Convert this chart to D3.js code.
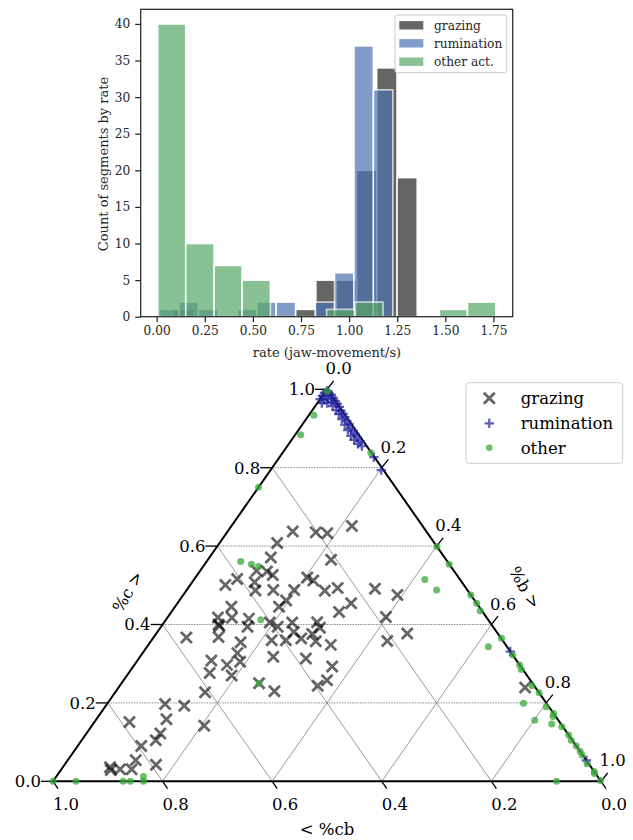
<!DOCTYPE html>
<html><head><meta charset="utf-8">
<script src="https://cdn.jsdelivr.net/npm/d3@7"></script>
<style>body{margin:0;background:#fff}svg{display:block}text{font-family:"DejaVu Serif",serif;}</style>
</head><body><svg id="c" width="633" height="840"></svg>
<script>
// ---------- histogram data ----------
const rateTicks = [0, 0.25, 0.5, 0.75, 1.0, 1.25, 1.5, 1.75];
const countTicks = [0, 5, 10, 15, 20, 25, 30, 35, 40];
const histNames = ["grazing", "rumination", "other act."];
const grazingEdges = [0.088, 0.194, 0.299, 0.405, 0.510, 0.616, 0.721, 0.827, 0.932, 1.038, 1.143, 1.249, 1.354];
const grazingCounts = [1, 0, 0, 0, 0, 0, 1, 5, 5, 20, 34, 19];
const ruminationEdges = [0.015, 0.116, 0.217, 0.318, 0.419, 0.520, 0.621, 0.722, 0.823, 0.924, 1.025, 1.126, 1.227];
const ruminationCounts = [1, 2, 1, 0, 1, 2, 2, 0, 2, 6, 37, 31];
const otherEdges = [0.005, 0.151, 0.298, 0.444, 0.591, 0.737, 0.883, 1.030, 1.176, 1.322, 1.469, 1.615, 1.762];
const otherCounts = [40, 10, 7, 5, 0, 0, 1, 2, 0, 0, 1, 2];

// ---------- ternary data: [b, c]  (cb = 1 - b - c) ----------
const ternTicks = [0, 0.2, 0.4, 0.6, 0.8, 1.0];
const ternNames = ["grazing", "rumination", "other"];
const grazingPts = [
 [0.220,0.651],[0.119,0.637],[0.162,0.635],[0.184,0.633],[0.105,0.608],[0.112,0.571],[0.225,0.565],
 [0.078,0.516],[0.064,0.501],[0.103,0.537],[0.123,0.535],[0.138,0.526],[0.114,0.508],[0.126,0.487],
 [0.158,0.488],[0.204,0.520],[0.219,0.512],[0.196,0.488],[0.253,0.486],[0.273,0.493],[0.342,0.491],
 [0.391,0.475],[0.195,0.461],[0.190,0.445],[0.317,0.454],[0.306,0.432],[0.398,0.419],[0.458,0.377],
 [0.431,0.358],[0.103,0.445],[0.118,0.417],[0.150,0.415],[0.158,0.394],[0.092,0.418],[0.102,0.400],
 [0.106,0.396],[0.193,0.405],[0.213,0.394],[0.234,0.405],[0.249,0.381],[0.279,0.406],[0.291,0.392],
 [0.285,0.376],[0.271,0.364],[0.245,0.360],[0.219,0.360],[0.301,0.357],[0.333,0.348],[0.165,0.355],
 [0.173,0.327],[0.060,0.367],[0.118,0.368],[0.243,0.318],[0.305,0.313],[0.363,0.293],[0.371,0.258],
 [0.361,0.244],[0.251,0.250],[0.289,0.230],[0.135,0.308],[0.169,0.297],[0.189,0.305],[0.148,0.276],
 [0.191,0.270],[0.164,0.227],[0.106,0.197],[0.143,0.193],[0.064,0.151],[0.128,0.158],[0.205,0.142],
 [0.135,0.122],[0.135,0.105],[0.116,0.090],[0.124,0.054],[0.167,0.042],[0.128,0.031],[0.086,0.036],
 [0.091,0.029],[0.107,0.031],[0.742,0.239]
];
const ruminationPts = [
 [0.002,0.996],[0.000,0.991],[0.008,0.991],[0.000,0.983],[0.007,0.983],[0.015,0.986],[0.000,0.975],
 [0.008,0.973],[0.014,0.975],[0.022,0.978],[0.008,0.965],[0.018,0.965],[0.024,0.968],[0.030,0.970],
 [0.037,0.963],[0.032,0.957],[0.045,0.955],[0.043,0.947],[0.053,0.945],[0.061,0.937],[0.053,0.937],
 [0.068,0.929],[0.065,0.924],[0.077,0.919],[0.084,0.912],[0.078,0.909],[0.093,0.901],[0.090,0.896],
 [0.101,0.894],[0.108,0.886],[0.103,0.881],[0.116,0.878],[0.114,0.871],[0.126,0.868],[0.126,0.861],
 [0.136,0.855],[0.172,0.827],[0.202,0.794],[0.669,0.331],[0.947,0.053]
];
const otherPts = [
 [0.009,0.934],[0.010,0.884],[0.000,0.750],[0.062,0.561],[0.085,0.554],[0.101,0.548],[0.173,0.412],
 [0.251,0.250],[0.161,0.838],[0.401,0.599],[0.446,0.554],[0.421,0.515],[0.456,0.488],[0.525,0.475],
 [0.546,0.454],[0.562,0.435],[0.636,0.365],[0.623,0.343],[0.678,0.322],[0.703,0.297],[0.752,0.244],
 [0.774,0.226],[0.759,0.199],[0.801,0.156],[0.827,0.173],[0.837,0.146],[0.859,0.139],[0.882,0.118],
 [0.910,0.090],[0.924,0.076],[0.932,0.067],[0.975,0.025],[0.919,0.000],[0.998,0.002],[0.000,0.000],
 [0.042,0.000],[0.128,0.000],[0.141,0.000],[0.159,0.012],[0.165,0.000],[0.003,0.995],[0.805,0.190],
 [0.830,0.165],[0.893,0.105],[0.952,0.045],[0.978,0.020],[0.712,0.285]
];

const svg = d3.select("#c");
svg.append("rect").attr("width", 633).attr("height", 840).attr("fill", "#fff");
const ink = "#262626";

// ================= HISTOGRAM =================
const hx = d3.scaleLinear().domain([-0.083, 1.850]).range([140.7, 512.7]);
const hy = d3.scaleLinear().domain([0, 42]).range([316.7, 9.3]);
const hist = [
  {edges: grazingEdges, counts: grazingCounts, color: "#000000", op: 0.6},
  {edges: ruminationEdges, counts: ruminationCounts, color: "#4c72b0", op: 0.7},
  {edges: otherEdges, counts: otherCounts, color: "#55a868", op: 0.7}
];
hist.forEach(s => {
  const bins = s.counts.map((n, i) => ({x0: s.edges[i], x1: s.edges[i + 1], n})).filter(d => d.n > 0);
  svg.append("g").selectAll("rect").data(bins).join("rect")
    .attr("x", d => hx(d.x0)).attr("width", d => hx(d.x1) - hx(d.x0))
    .attr("y", d => hy(d.n)).attr("height", d => hy(0) - hy(d.n))
    .attr("fill", s.color).attr("stroke", "#fff").attr("stroke-width", 1.6)
    .attr("opacity", s.op);
});
const xAx = svg.append("g").attr("transform", "translate(0,316.7)")
  .call(d3.axisBottom(hx).tickValues(rateTicks).tickFormat(d3.format(".2f")).tickSize(5.5).tickPadding(4));
const yAx = svg.append("g").attr("transform", "translate(140.7,0)")
  .call(d3.axisLeft(hy).tickValues(countTicks).tickSize(5.5).tickPadding(5));
[xAx, yAx].forEach(a => {
  a.select(".domain").remove();
  a.selectAll("line").attr("stroke", ink).attr("stroke-width", 1.25);
  a.selectAll("text").attr("fill", ink).style("font-size", "12.2px").style("font-family", "DejaVu Serif");
});
svg.append("rect").attr("x", 140.7).attr("y", 9.3).attr("width", 372).attr("height", 307.4)
  .attr("fill", "none").attr("stroke", ink).attr("stroke-width", 1.25);
svg.append("text").attr("x", 327).attr("y", 356.5).attr("text-anchor", "middle")
  .attr("fill", ink).style("font-size", "13px").text("rate (jaw-movement/s)");
svg.append("text").attr("transform", "translate(107.5,164) rotate(-90)").attr("text-anchor", "middle")
  .attr("fill", ink).style("font-size", "13px").text("Count of segments by rate");
// legend
const hl = svg.append("g");
hl.append("rect").attr("x", 395).attr("y", 15).attr("width", 111.7).attr("height", 57.7).attr("rx", 2.5)
  .attr("fill", "#fff").attr("fill-opacity", 0.8).attr("stroke", "#cccccc").attr("stroke-width", 1);
const hRows = [25.3, 43.3, 61.7];
hist.forEach((s, i) => {
  hl.append("rect").attr("x", 399.3).attr("y", hRows[i] - 4.2).attr("width", 24).attr("height", 8.4)
    .attr("fill", s.color).attr("opacity", s.op);
  hl.append("text").attr("x", 434).attr("y", hRows[i]).attr("dy", "0.35em").attr("fill", ink)
    .style("font-size", "12.2px").text(histNames[i]);
});

// ================= TERNARY =================
const tx = d3.scaleLinear().domain([0, 1]).range([53, 601]);
const ty = d3.scaleLinear().domain([0, 1]).range([781.3, 389.3]);
const T = (b, c) => [tx(b + c / 2), ty(c)];
const line = d3.line();
const grid = svg.append("g");
ternTicks.filter(v => v > 0 && v < 1).forEach(v => {
  grid.append("path").attr("d", line([T(0, v), T(1 - v, v)]))
    .attr("stroke", "#777").attr("stroke-width", 0.8).attr("stroke-dasharray", "1.6,1").attr("fill", "none");
  grid.append("path").attr("d", line([T(v, 0), T(v, 1 - v)]))
    .attr("stroke", "#555").attr("stroke-width", 0.6).attr("fill", "none");
  grid.append("path").attr("d", line([T(1 - v, 0), T(0, 1 - v)]))
    .attr("stroke", "#555").attr("stroke-width", 0.6).attr("fill", "none");
});
svg.append("path").attr("d", line([T(0, 0), T(1, 0), T(0, 1)]) + "Z")
  .attr("fill", "none").attr("stroke", "#000").attr("stroke-width", 2).attr("stroke-linejoin", "miter");

const tk = svg.append("g");
const tfs = "16.5px";
ternTicks.forEach(v => {
  const lab = v.toFixed(1);
  // left axis (%c)
  let p = T(0, v);
  tk.append("line").attr("x1", p[0] - 12).attr("y1", p[1]).attr("x2", p[0]).attr("y2", p[1]).attr("stroke", "#000").attr("stroke-width", 1.3);
  tk.append("text").attr("x", p[0] - 12).attr("y", p[1]).attr("dy", "0.36em").attr("text-anchor", "end").style("font-size", tfs).text(lab);
  // right axis (%b)
  p = T(v, 1 - v);
  tk.append("line").attr("x1", p[0]).attr("y1", p[1]).attr("x2", p[0] + 6.6).attr("y2", p[1] - 8.3).attr("stroke", "#000").attr("stroke-width", 1.3);
  tk.append("text").attr("x", p[0] + 11.7).attr("y", p[1] - 20.8).attr("dy", "0.36em").attr("text-anchor", "middle").style("font-size", tfs).text(lab);
  // bottom axis (%cb)
  p = T(1 - v, 0);
  tk.append("line").attr("x1", p[0]).attr("y1", p[1]).attr("x2", p[0] + 5).attr("y2", p[1] + 7.3).attr("stroke", "#000").attr("stroke-width", 1.3);
  tk.append("text").attr("x", p[0] + 13).attr("y", p[1] + 22.7).attr("dy", "0.36em").attr("text-anchor", "middle").style("font-size", tfs).text(lab);
});
svg.append("text").attr("transform", "translate(127.5,591.5) rotate(-60)").attr("text-anchor", "middle").attr("dy", "0.36em").style("font-size", tfs).text("%c >");
svg.append("text").attr("transform", "translate(525,587.5) rotate(60)").attr("text-anchor", "middle").attr("dy", "0.36em").style("font-size", tfs).text("%b >");
svg.append("text").attr("x", 327).attr("y", 829).attr("text-anchor", "middle").attr("dy", "0.36em").style("font-size", tfs).text("< %cb");

// markers
const xPath = s => `M${-s},${-s}L${s},${s}M${-s},${s}L${s},${-s}`;
const pPath = s => `M${-s},0L${s},0M0,${-s}L0,${s}`;
const gStyle = sel => sel.attr("fill", "none").attr("stroke", "#000").attr("stroke-opacity", 0.6).attr("stroke-width", 2.8);
const rStyle = sel => sel.attr("fill", "none").attr("stroke", "#2323a0").attr("stroke-opacity", 0.72).attr("stroke-width", 2.3);
const oStyle = sel => sel.attr("fill", "#3aa83a").attr("fill-opacity", 0.75);
svg.append("g").selectAll("path").data(grazingPts).join("path")
  .attr("transform", d => `translate(${T(d[0], d[1])})`).attr("d", xPath(5.5)).call(gStyle);
svg.append("g").selectAll("path").data(ruminationPts).join("path")
  .attr("transform", d => `translate(${T(d[0], d[1])})`).attr("d", pPath(4.7)).call(rStyle);
svg.append("g").selectAll("circle").data(otherPts).join("circle")
  .attr("cx", d => T(d[0], d[1])[0]).attr("cy", d => T(d[0], d[1])[1]).attr("r", 3.5).call(oStyle);

// ternary legend
const tl = svg.append("g");
tl.append("rect").attr("x", 466).attr("y", 382.7).attr("width", 156.7).attr("height", 80.6).attr("rx", 3)
  .attr("fill", "#fff").attr("fill-opacity", 0.8).attr("stroke", "#cccccc").attr("stroke-width", 1);
const tRows = [398.3, 423.3, 447.7];
tl.append("path").attr("transform", `translate(489.3,${tRows[0]})`).attr("d", xPath(5.5)).call(gStyle);
tl.append("path").attr("transform", `translate(489.3,${tRows[1]})`).attr("d", pPath(4.7)).call(rStyle);
tl.append("circle").attr("cx", 489.3).attr("cy", tRows[2]).attr("r", 3.3).call(oStyle);
ternNames.forEach((n, i) => tl.append("text").attr("x", 520.7).attr("y", tRows[i]).attr("dy", "0.36em").style("font-size", tfs).text(n));
</script></body></html>
